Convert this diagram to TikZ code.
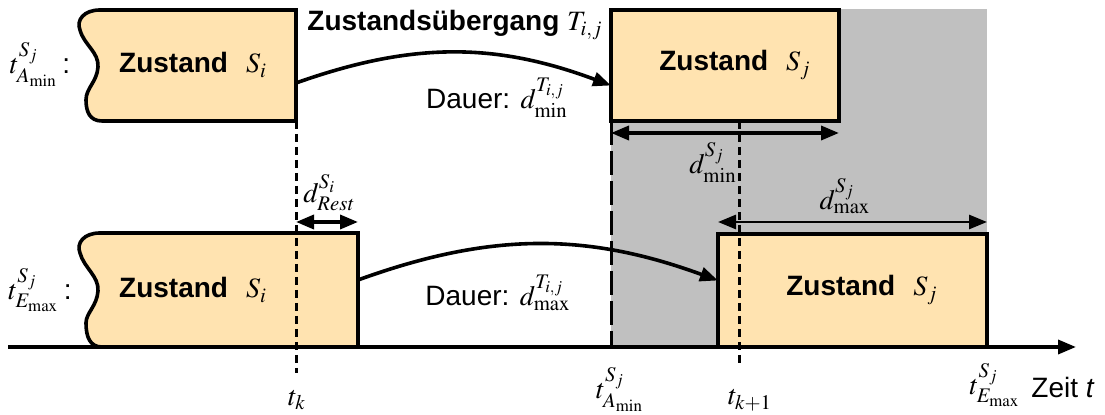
\documentclass[tikz,border=0pt]{standalone}
\usepackage{mathptmx}
\usepackage[no-math]{fontspec}
\setmainfont{Liberation Sans}
\usepackage{tikz}
\usetikzlibrary{arrows.meta,positioning}
\definecolor{StateBG}{HTML}{FFE3B0}
\definecolor{WinGray}{HTML}{C0C0C0}

\begin{document}
\begin{tikzpicture}[x=0.5pt,y=-0.5pt,>=Stealth,font=\fontsize{14}{16}\selectfont]
  \tikzstyle{zbox}=[draw, line width=1.8pt, fill=StateBG, outer sep=0pt, inner sep=0pt]
  \tikzstyle{zlab}=[inner sep=1pt]
  \tikzstyle{trans}=[-{Triangle[length=9pt,width=7pt]}, line width=1.8pt]
  \tikzstyle{dur}=[{Triangle[length=9pt,width=7pt]}-{Triangle[length=9pt,width=7pt]}, line width=1.8pt]
  \tikzstyle{tline}=[line width=1.5pt, dash pattern=on 4pt off 2.5pt]
  \useasboundingbox (0,0) rectangle (1105,415);
  % time window of S_j
  \fill[WinGray] (611,9) rectangle (987,347);
  % S_i, upper case
  \draw[zbox] (296,10) -- (100,10) .. controls (84,10) and (76,20) .. (80,30)
    .. controls (84,45) and (99,52) .. (98,67) .. controls (97,82) and (86,88) .. (86,100)
    .. controls (86,112) and (90,121) .. (102,121) -- (296,121) -- cycle;
  \node[zlab] (siT) at (193,65) {\textbf{Zustand}\hspace{9pt}$S_i$};
  \node[zlab] (tAl) at (40,65) {$t^{S_j}_{A_{\mathrm{min}}}$\,:};
  \coordinate (siTe) at (296,83);
  % S_i, lower case
  \draw[zbox] (358,233) -- (100,233) .. controls (84,233) and (76,243) .. (80,253)
    .. controls (84,268) and (99,276) .. (98,291) .. controls (97,306) and (86,313) .. (86,323)
    .. controls (86,337) and (90,347) .. (102,347) -- (358,347) -- cycle;
  \node[zlab] (siB) at (193,290) {\textbf{Zustand}\hspace{9pt}$S_i$};
  \node[zlab] (tEl) at (40,290) {$t^{S_j}_{E_{\mathrm{max}}}$\,:};
  \coordinate (siBe) at (358,280);
  % S_j boxes
  \node[zbox, minimum width=114pt, minimum height=55.5pt] (sjT) at (725,65.5) {};
  \node[zlab] at (735,65) {\textbf{Zustand}\hspace{9pt}$S_j$};
  \node[zbox, minimum width=134.5pt, minimum height=56.5pt] (sjB) at (852.5,290.5) {};
  \node[zlab] at (862,290) {\textbf{Zustand}\hspace{9pt}$S_j$};
  % time axis
  \coordinate (ax0) at (8,347);
  \coordinate (ax1) at (1076,347);
  \draw[-{Triangle[length=9pt,width=7pt]}, line width=1.8pt] (ax0) -- (ax1);
  % time marks
  \draw[tline] (296,121) -- (296,373);
  \draw[tline] (739,121) -- (739,367);
  \draw[line width=1.5pt, dash pattern=on 12pt off 3pt] (sjT.south west) -- (611,347);
  % transitions
  \node[font=\fontsize{14}{16}\selectfont\bfseries] (tij) at (455,25) {Zustands\"ubergang $T_{i,j}$};
  \draw[trans] (siTe) to[bend left=20] ([yshift=-10pt]sjT.west);
  \node (dTmin) at (497,98) {Dauer: $d^{T_{i,j}}_{\mathrm{min}}$};
  \draw[trans] (siBe) to[bend left=20] ([yshift=5pt]sjB.west);
  \node (dTmax) at (498,293) {Dauer: $d^{T_{i,j}}_{\mathrm{max}}$};
  % durations
  \draw[dur] ([yshift=-6pt]sjT.south west) -- ([yshift=-6pt]sjT.south east);
  \node (dmin) at (713,163) {$d^{S_j}_{\mathrm{min}}$};
  \draw[dur, line width=1.4pt] ([yshift=6pt]sjB.north west) -- ([yshift=6pt]sjB.north east);
  \node (dmax) at (845,196) {$d^{S_j}_{\mathrm{max}}$};
  \coordinate (rest0) at (296,222);
  \coordinate (rest1) at (358,222);
  \draw[dur] (rest0) -- (rest1);
  \node (drest) at (329,193) {$d^{S_i}_{\mathit{Rest}}$};
  % axis labels
  \node (tk) at (297,400) {$t_k$};
  \node (tAb) at (620,390) {$t^{S_j}_{A_{\mathrm{min}}}$};
  \node (tk1) at (750,400) {$t_{k+1}$};
  \node (tEb) at (995,385) {$t^{S_j}_{E_{\mathrm{max}}}$};
  \node (zeit) at (1063,387) {Zeit \textit{t}};
\end{tikzpicture}
\end{document}
